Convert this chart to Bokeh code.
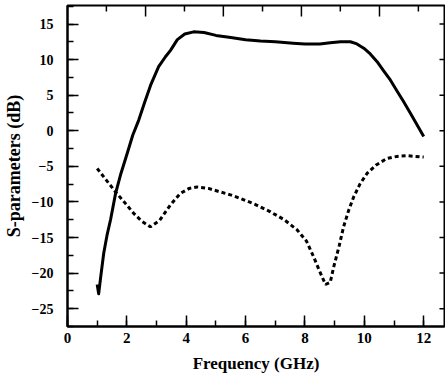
from bokeh.plotting import figure
from bokeh.models import Range1d, SingleIntervalTicker
from bokeh.embed import file_html
from bokeh.resources import INLINE

# S21 (solid)
freq_s21 = [1.0, 1.05, 1.12, 1.22, 1.33, 1.45, 1.62, 1.8, 2.01, 2.2, 2.4, 2.6, 2.8,
            3.07, 3.3, 3.47, 3.7, 3.95, 4.25, 4.6, 5.0, 5.5, 6.0, 6.5, 7.0, 7.6, 8.0,
            8.5, 8.85, 9.2, 9.53, 9.75, 9.98, 10.2, 10.43, 10.65, 10.88, 11.1, 11.32,
            11.6, 12.0]
s21_db = [-21.6, -22.9, -20.5, -17.2, -14.7, -12.5, -8.8, -6.0, -3.2, -0.6, 1.5, 4.0, 6.4,
          9.0, 10.4, 11.3, 12.8, 13.6, 13.9, 13.8, 13.4, 13.1, 12.8, 12.6, 12.5, 12.3, 12.2,
          12.2, 12.35, 12.5, 12.5, 12.2, 11.6, 10.8, 9.7, 8.4, 7.1, 5.6, 4.1,
          2.1, -0.8]

# S11 (dotted)
freq_s11 = [1.0, 1.3, 1.62, 1.95, 2.23, 2.5, 2.79, 3.1, 3.47, 3.8, 4.1, 4.37, 4.75, 5.15,
            5.49, 5.82, 6.3, 6.84, 7.3, 7.73, 8.05, 8.29, 8.5, 8.69, 8.85, 8.97, 9.15, 9.3,
            9.47, 9.64, 9.85, 10.09, 10.4, 10.76, 11.1, 11.44, 11.7, 12.0]
s11_db = [-5.3, -6.9, -8.6, -10.2, -11.6, -12.7, -13.5, -12.6, -10.4, -8.8, -8.1, -7.9, -8.1, -8.6,
          -9.0, -9.5, -10.3, -11.4, -12.5, -13.9, -15.5, -17.7, -19.8, -21.6, -21.3, -19.1, -16.2, -13.5,
          -11.2, -9.3, -7.5, -6.0, -4.8, -3.9, -3.6, -3.5, -3.6, -3.7]

x_label = "Frequency (GHz)"
y_label = "S-parameters (dB)"

# tick marks of the unlabeled top and right frame edges
top_ticks_long = [2.63, 5.25, 7.88, 10.51]
top_ticks_short = [1.31, 3.94, 6.57, 9.19, 11.82]
right_ticks = [-25, -20, -15, -10, -5, 0, 5, 10, 15]

X0, X1 = 0, 12.7
Y0, Y1 = -27.5, 17.6
FONT = "Liberation Serif"

W, H = 445, 379
BL, BR, BT, BB = 67, 1, 5, 53

p = figure(width=W, height=H, output_backend="svg", toolbar_location=None,
           x_range=Range1d(X0, X1), y_range=Range1d(Y0, Y1),
           min_border_left=BL, min_border_right=BR, min_border_top=BT, min_border_bottom=BB,
           x_axis_label=x_label, y_axis_label=y_label)
p.background_fill_color = "white"
p.border_fill_color = "white"
p.grid.visible = False
p.outline_line_color = "black"
p.outline_line_width = 2

xa = p.xaxis[0]
xa.ticker = SingleIntervalTicker(interval=2, num_minor_ticks=2)
ya = p.yaxis[0]
ya.ticker = SingleIntervalTicker(interval=5, num_minor_ticks=2)

for ax in (xa, ya):
    ax.axis_line_width = 2
    ax.axis_line_color = "black"
    ax.major_tick_in = 11
    ax.major_tick_out = 0
    ax.minor_tick_in = 6
    ax.minor_tick_out = 0
    ax.major_tick_line_width = 1.5
    ax.minor_tick_line_width = 1.5
    ax.major_tick_line_color = "black"
    ax.minor_tick_line_color = "black"
    ax.major_label_text_font = FONT
    ax.major_label_text_font_style = "bold"
    ax.major_label_text_color = "black"
    ax.axis_label_text_font = FONT
    ax.axis_label_text_font_style = "bold"
    ax.axis_label_text_color = "black"

xa.major_label_text_font_size = "15px"
ya.major_label_text_font_size = "14px"
xa.axis_label_text_font_size = "17px"
ya.axis_label_text_font_size = "18px"
xa.major_label_standoff = 6
xa.axis_label_standoff = 8
ya.major_label_standoff = 14
ya.axis_label_standoff = 5

# pixel -> data conversions for tick lengths on the top/right frame edges
px_x = (X1 - X0) / (W - BL - BR)
px_y = (Y1 - Y0) / (H - BT - BB)

p.segment(x0=top_ticks_long, y0=[Y1] * len(top_ticks_long),
          x1=top_ticks_long, y1=[Y1 - 11 * px_y] * len(top_ticks_long),
          line_color="black", line_width=1.5)
p.segment(x0=top_ticks_short, y0=[Y1] * len(top_ticks_short),
          x1=top_ticks_short, y1=[Y1 - 6 * px_y] * len(top_ticks_short),
          line_color="black", line_width=1.5)
p.segment(x0=[X1] * len(right_ticks), y0=right_ticks,
          x1=[X1 - 5 * px_x] * len(right_ticks), y1=right_ticks,
          line_color="black", line_width=1.5)

p.line(freq_s21, s21_db, line_color="black", line_width=3, line_join="round")
p.line(freq_s11, s11_db, line_color="black", line_width=3, line_dash="4 3")

open("out.html", "w").write(file_html(p, INLINE))
